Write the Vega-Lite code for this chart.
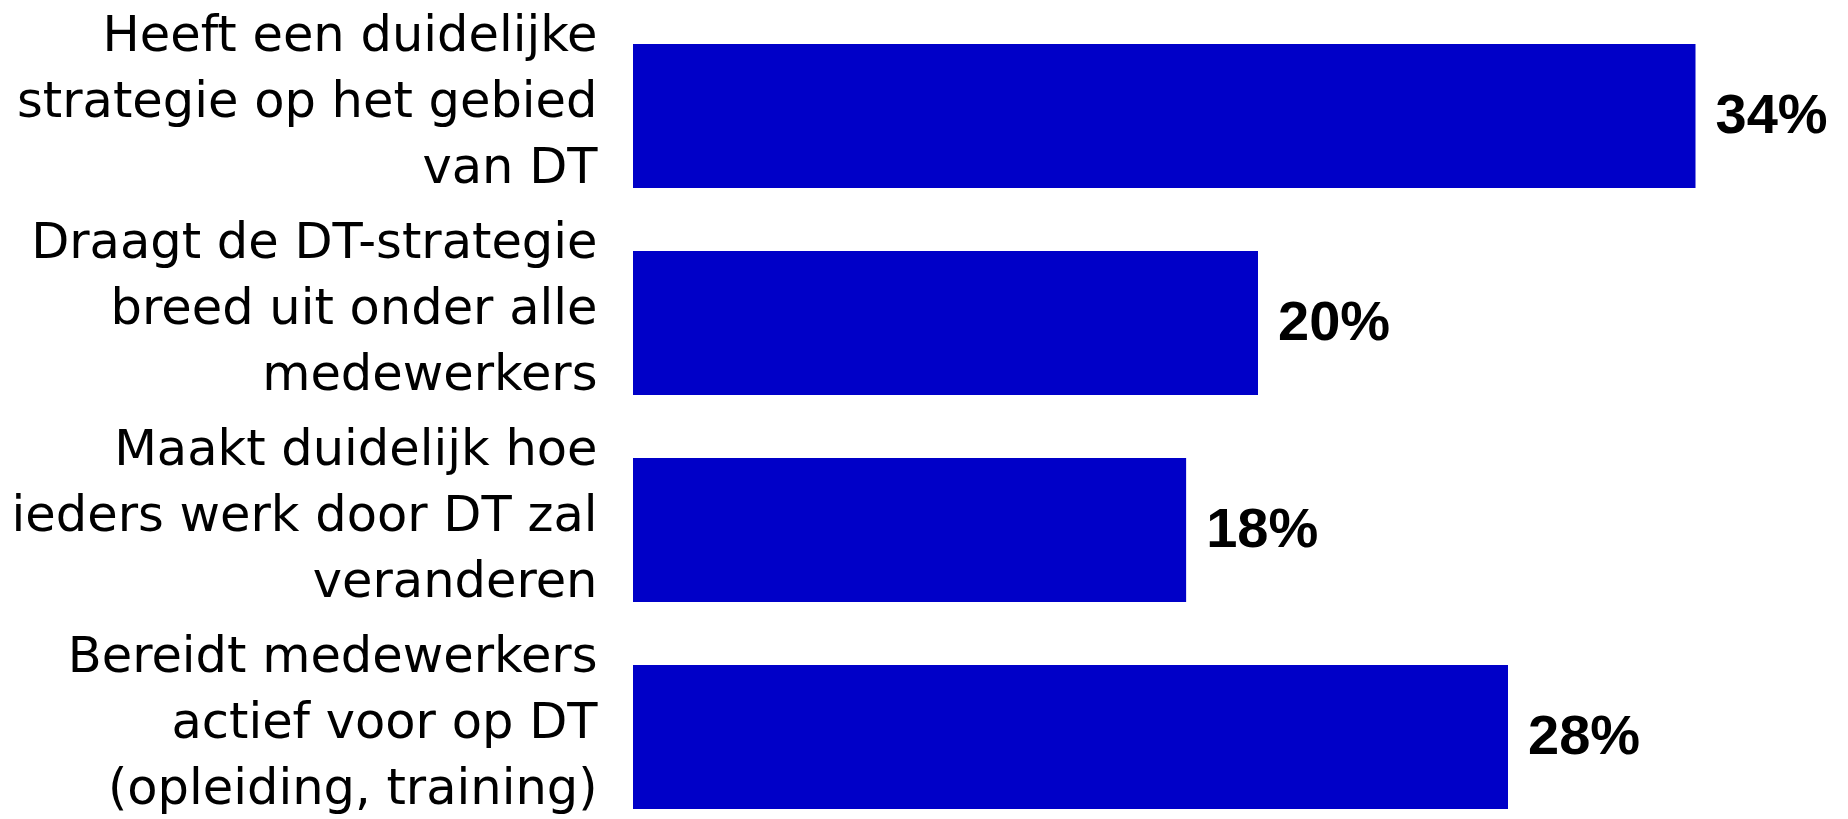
{
  "$schema": "https://vega.github.io/schema/vega-lite/v6.json",
  "width": 1215,
  "height": 765,
  "autosize": "none",
  "padding": {"left": 633, "top": 44, "right": 0, "bottom": 10},
  "background": "white",
  "config": {"view": {"stroke": null}},
  "data": {
    "values": [
      {"item": "Heeft een duidelijke|strategie op het gebied|van DT", "value": 34, "label": "34%"},
      {"item": "Draagt de DT-strategie|breed uit onder alle|medewerkers", "value": 20, "label": "20%"},
      {"item": "Maakt duidelijk hoe|ieders werk door DT zal|veranderen", "value": 17.7, "label": "18%"},
      {"item": "Bereidt medewerkers|actief voor op DT|(opleiding, training)", "value": 28, "label": "28%"}
    ]
  },
  "encoding": {
    "y": {
      "field": "item",
      "type": "nominal",
      "sort": null,
      "scale": {"paddingInner": 0.304, "paddingOuter": 0},
      "axis": {
        "title": null,
        "domain": false,
        "ticks": false,
        "labelPadding": 36,
        "labelOffset": -80,
        "labelExpr": "split(datum.label, '|')",
        "labelFont": "DejaVu Sans",
        "labelFontSize": 49.5,
        "labelLineHeight": 66,
        "labelColor": "#000000",
        "labelLimit": 0,
        "labelAlign": "right",
        "labelBaseline": "middle"
      }
    },
    "x": {
      "field": "value",
      "type": "quantitative",
      "scale": {"domain": [0, 38.88], "nice": false},
      "axis": null
    }
  },
  "layer": [
    {"mark": {"type": "bar", "color": "#0000c8"}},
    {
      "mark": {"type": "text", "align": "left", "dx": 20, "baseline": "middle", "font": "Liberation Sans", "fontSize": 56, "fontWeight": "bold", "color": "#000000"},
      "encoding": {"text": {"field": "label"}}
    }
  ]
}
